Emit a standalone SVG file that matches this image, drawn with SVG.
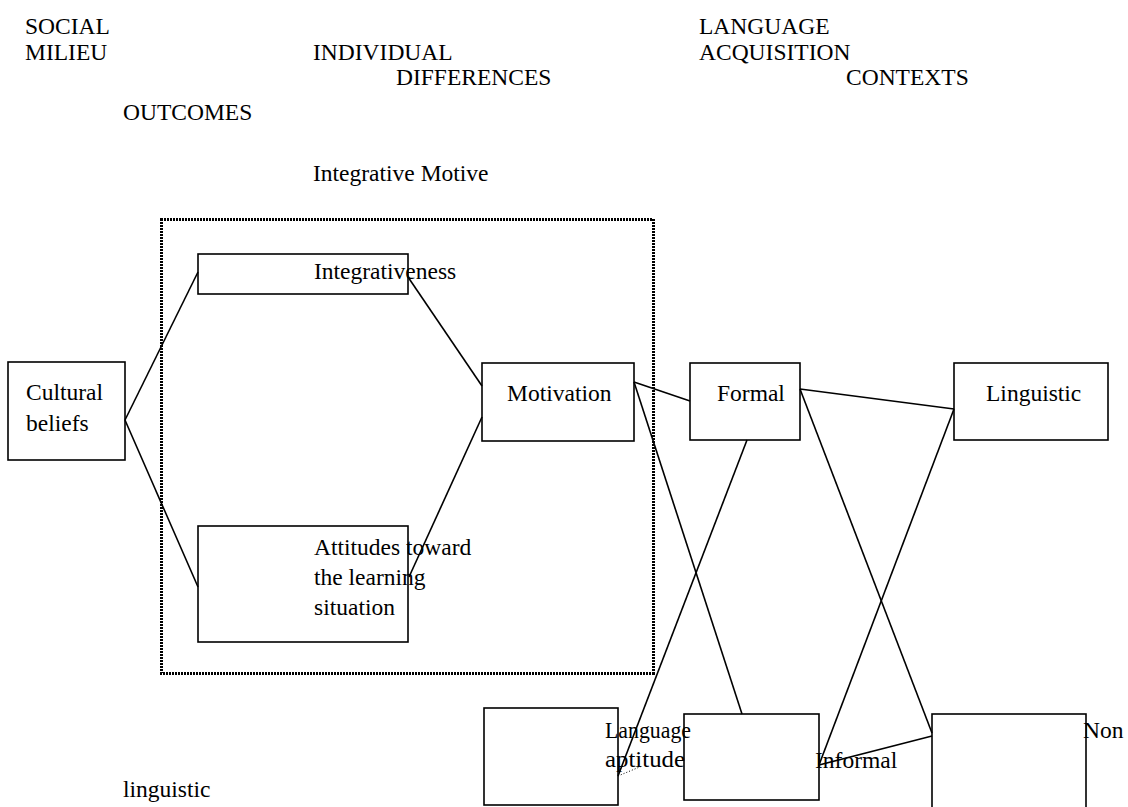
<svg xmlns="http://www.w3.org/2000/svg" width="1128" height="807" viewBox="0 0 1128 807">
<style>
text{font-family:"Liberation Serif","Times New Roman",serif;font-size:23.5px;fill:#000}
.box{fill:none;stroke:#000;stroke-width:1.6}
.ln{stroke:#000;stroke-width:1.6;fill:none}
.dot{fill:none;stroke:#000;stroke-width:3;stroke-dasharray:2 1;shape-rendering:crispEdges}
.dl{stroke:#000;stroke-width:1;stroke-dasharray:1 2;fill:none}
</style>
<rect width="1128" height="807" fill="#fff"/>
<g id="headers">
<text x="25" y="34">SOCIAL</text>
<text x="25" y="60">MILIEU</text>
<text x="313" y="60">INDIVIDUAL</text>
<text x="396" y="85">DIFFERENCES</text>
<text x="699" y="34">LANGUAGE</text>
<text x="699" y="60">ACQUISITION</text>
<text x="846" y="85">CONTEXTS</text>
<text x="123" y="120">OUTCOMES</text>
</g>
<g id="integrative-motive">
<rect class="dot" x="161" y="219" width="492" height="454"/>
<text x="313" y="181">Integrative Motive</text>
</g>
<g id="cultural-beliefs">
<rect class="box" x="8" y="362" width="117" height="98"/>
<text x="26" y="400">Cultural</text>
<text x="26" y="431">beliefs</text>
</g>
<g id="integrativeness">
<rect class="box" x="198" y="254" width="210" height="40"/>
<text x="314" y="279">Integrativeness</text>
</g>
<g id="attitudes">
<rect class="box" x="198" y="526" width="210" height="116"/>
<text x="314" y="555">Attitudes toward</text>
<text x="314" y="585">the learning</text>
<text x="314" y="615">situation</text>
</g>
<g id="motivation">
<rect class="box" x="482" y="363" width="152" height="78"/>
<text x="507" y="401">Motivation</text>
</g>
<g id="formal">
<rect class="box" x="690" y="363" width="110" height="77"/>
<text x="717" y="401">Formal</text>
</g>
<g id="linguistic">
<rect class="box" x="954" y="363" width="154" height="77"/>
<text x="986" y="401">Linguistic</text>
</g>
<g id="language-aptitude">
<rect class="box" x="484" y="708" width="134" height="97"/>
<text x="605" y="738" textLength="86" lengthAdjust="spacingAndGlyphs">Language</text>
<text x="605" y="767" textLength="80" lengthAdjust="spacingAndGlyphs">aptitude</text>
</g>
<g id="informal">
<rect class="box" x="684" y="714" width="135" height="86"/>
<text x="815" y="768">Informal</text>
</g>
<g id="non-linguistic">
<rect class="box" x="932" y="714" width="154" height="100"/>
<text x="1083" y="738">Non</text>
<text x="123" y="797">linguistic</text>
</g>
<g id="connectors">
<line class="ln" x1="125" y1="420" x2="198" y2="272"/>
<line class="ln" x1="125" y1="420" x2="198" y2="587"/>
<line class="ln" x1="408" y1="277" x2="482" y2="386"/>
<line class="ln" x1="409" y1="577" x2="482" y2="417"/>
<line class="ln" x1="634" y1="382" x2="690" y2="401"/>
<line class="ln" x1="634" y1="382" x2="742" y2="714"/>
<line class="ln" x1="800" y1="389" x2="954" y2="409"/>
<line class="ln" x1="800" y1="389" x2="932" y2="733"/>
<line class="ln" x1="747" y1="440" x2="618" y2="776"/>
<line class="ln" x1="954" y1="409" x2="819" y2="765"/>
<line class="ln" x1="819" y1="765" x2="932" y2="736"/>
<line class="dl" x1="618" y1="776" x2="642" y2="766"/>
</g>
</svg>
